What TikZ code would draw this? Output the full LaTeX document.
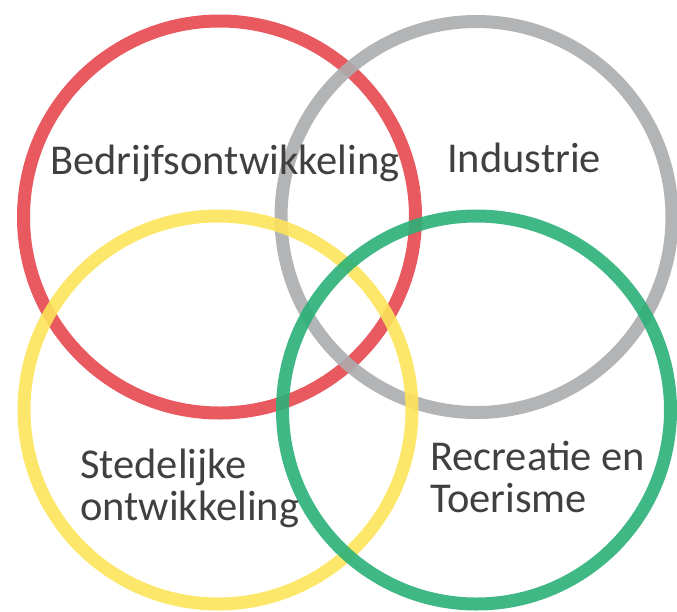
\documentclass[tikz,border=0pt]{standalone}
\usepackage{fontspec}
\setmainfont{Carlito}
\definecolor{cred}{HTML}{E5474F}
\definecolor{cgray}{HTML}{ABACAE}
\definecolor{cyellow}{HTML}{FDE45A}
\definecolor{cgreen}{HTML}{2AB078}
\definecolor{ctext}{HTML}{404040}
\tikzset{
  ring/.style={line width=13pt, opacity=0.9},
  lbl/.style={anchor=base west, inner sep=0pt, text=ctext, font=\fontsize{42.5}{43}\selectfont}
}
\begin{document}
\begin{tikzpicture}[x=1pt,y=-1pt]
\useasboundingbox (0,0) rectangle (677,611);
\coordinate (cR) at (219.5,217);
\coordinate (cG) at (476.5,217);
\coordinate (cY) at (218,410);
\coordinate (cN) at (476.5,410);
\draw[ring, draw=cred] (cR) circle[radius=196];
\draw[ring, draw=cgray] (cG) circle[radius=195.5];
\draw[ring, draw=cyellow] (cY) circle[radius=194];
\draw[ring, draw=cgreen] (cN) circle[radius=194];
\node[lbl] (bed) at (50,174) {Bedrijfsontwikkeling};
\node[lbl] (ind) at (447,172) {Industrie};
\node[lbl] (ste1) at (80,478) {Stedelijke};
\node[lbl] (ste2) at (80,520) {ontwikkeling};
\node[lbl] (rec1) at (430,470) {Recreatie en};
\node[lbl] (rec2) at (430,512) {Toerisme};
\end{tikzpicture}
\end{document}
